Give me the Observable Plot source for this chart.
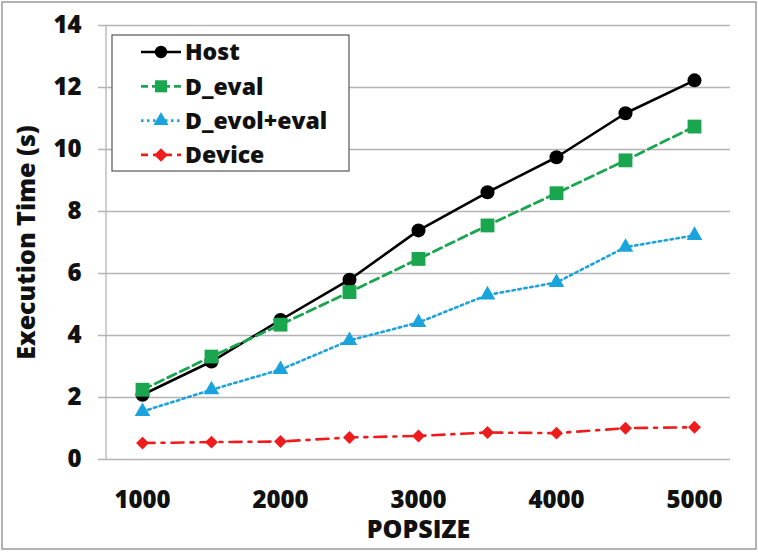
<!DOCTYPE html>
<html>
<head>
<meta charset="utf-8">
<script src="https://cdn.jsdelivr.net/npm/d3@7"></script>
<script src="https://cdn.jsdelivr.net/npm/@observablehq/plot@0.6"></script>
<style>
  html, body { margin: 0; padding: 0; background: #fff; }
  #chart { width: 758px; height: 552px; position: relative; }
  svg text { font-family: "Open Sans", sans-serif; }
</style>
</head>
<body>
<div id="chart"></div>
<script>
// ---- data ----
const popsize = [1000, 1500, 2000, 2500, 3000, 3500, 4000, 4500, 5000];
const xTickLabels = [1000, 2000, 3000, 4000, 5000];
const yTicks = [0, 2, 4, 6, 8, 10, 12, 14];
const seriesNames = ["Host", "D_eval", "D_evol+eval", "Device"];
const host      = [2.09, 3.16, 4.50, 5.80, 7.39, 8.62, 9.75, 11.17, 12.23];
const dEval     = [2.25, 3.32, 4.35, 5.40, 6.47, 7.55, 8.59, 9.65, 10.74];
const dEvolEval = [1.55, 2.25, 2.90, 3.84, 4.42, 5.31, 5.71, 6.85, 7.23];
const device    = [0.53, 0.56, 0.58, 0.71, 0.76, 0.87, 0.85, 1.01, 1.04];
const seriesValues = [host, dEval, dEvolEval, device];

// ---- styles ----
const styles = [
  {color: "#000000", dash: null,       legendDash: null,      symbol: "circle",   r: 7,   lr: 6.2, width: 2.6},
  {color: "#1aa64f", dash: "9,5",      legendDash: "7,4",     symbol: "square",   r: 7.8, lr: 6.8, width: 2.8},
  {color: "#1ba3dd", dash: "2.5,3.5",  legendDash: "2.5,3.5", symbol: "triangle", r: 5.8, lr: 5.6, width: 2.6},
  {color: "#ee1c1c", dash: "12,7,3,7", legendDash: "7,5",     symbol: "diamond2", r: 5.8, lr: 5.4, width: 2.6}
];

const W = 758, H = 552;
const mL = 106, mR = 28, mT = 25, mB = 93;
const font = "'Open Sans', sans-serif";
const weight = 800;
const tickFs = 24;

const rows = [];
seriesNames.forEach((name, i) => {
  popsize.forEach((p, j) => rows.push({series: name, popsize: String(p), value: seriesValues[i][j]}));
});

const marks = [
  Plot.ruleY(yTicks, {stroke: "#b4b4b4", strokeWidth: 1.3, insetLeft: -8}),
  Plot.text(yTicks, {y: d => d, frameAnchor: "left", textAnchor: "end", lineAnchor: "middle", dx: -25,
    text: d => String(d), fontSize: tickFs, fontWeight: weight, fill: "#111"}),
  Plot.text(xTickLabels, {x: d => String(d), frameAnchor: "bottom", textAnchor: "middle", lineAnchor: "top", dy: 31,
    text: d => String(d), fontSize: tickFs, fontWeight: weight, fill: "#111"}),
  Plot.text(["POPSIZE"], {frameAnchor: "bottom", textAnchor: "middle", lineAnchor: "top", dy: 61, fontSize: 25, fontWeight: weight, fill: "#111"}),
  Plot.text(["Execution Time (s)"], {frameAnchor: "left", textAnchor: "middle", lineAnchor: "middle", rotate: -90, dx: -80, fontSize: 25, fontWeight: weight, fill: "#111"})
];
seriesNames.forEach((name, i) => {
  const s = styles[i];
  const data = rows.filter(d => d.series === name);
  marks.push(Plot.line(data, {x: "popsize", y: "value", stroke: s.color, strokeWidth: s.width,
    strokeDasharray: s.dash || undefined}));
  marks.push(Plot.dot(data, {x: "popsize", y: "value", symbol: s.symbol, r: s.r, fill: s.color, stroke: "none"}));
});

const chart = Plot.plot({
  width: W, height: H,
  marginLeft: mL, marginRight: mR, marginTop: mT, marginBottom: mB,
  style: {fontFamily: font, background: "#fff", overflow: "visible"},
  x: {type: "point", domain: popsize.map(String), padding: 0.5, label: null, axis: null},
  y: {domain: [0, 14], label: null, axis: null},
  marks
});
document.getElementById("chart").appendChild(chart);

// decorations: outer border, left axis line, legend
const svg = d3.select(chart);
svg.append("rect").attr("x", 2).attr("y", 2).attr("width", W - 4).attr("height", H - 5)
  .attr("fill", "none").attr("stroke", "#8a8a8a").attr("stroke-width", 1.3);
svg.append("line").attr("x1", mL).attr("x2", mL)
  .attr("y1", mT).attr("y2", H - mB)
  .attr("stroke", "#b4b4b4").attr("stroke-width", 1.3);

const lg = svg.append("g").attr("text-anchor", "start");
lg.append("rect").attr("x", 112).attr("y", 35).attr("width", 237).attr("height", 136)
  .attr("fill", "#fff").attr("stroke", "#555").attr("stroke-width", 1.2);
const symMap = {circle: d3.symbolCircle, square: d3.symbolSquare, triangle: d3.symbolTriangle, diamond2: d3.symbolSquare};
seriesNames.forEach((name, i) => {
  const s = styles[i];
  const cy = 52 + i * 34.3;
  lg.append("line").attr("x1", 141).attr("x2", 181).attr("y1", cy).attr("y2", cy)
    .attr("stroke", s.color).attr("stroke-width", s.width)
    .attr("stroke-dasharray", s.legendDash);
  const r = s.lr;
  lg.append("path").attr("d", d3.symbol(symMap[s.symbol], Math.PI * r * r)())
    .attr("transform", `translate(161,${cy})` + (s.symbol === "diamond2" ? " rotate(45)" : ""))
    .attr("fill", s.color);
  lg.append("text").attr("x", 185).attr("y", cy).attr("dy", "0.36em")
    .attr("text-anchor", "start")
    .attr("font-size", 23).attr("font-weight", weight).attr("fill", "#111")
    .style("font-family", font).text(name);
});
</script>
</body>
</html>
